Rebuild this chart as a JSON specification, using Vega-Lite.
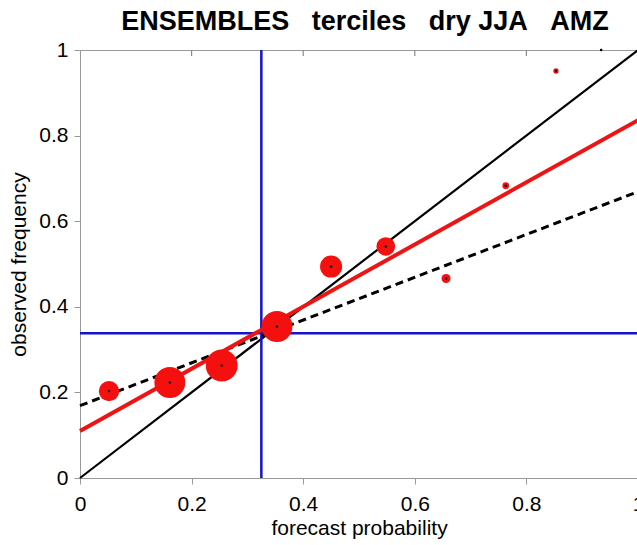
{
  "$schema": "https://vega.github.io/schema/vega-lite/v6.json",
  "autosize": "none",
  "padding": {"left": 80, "top": 50, "right": 0, "bottom": 66},
  "width": 558,
  "height": 428,
  "background": "white",
  "config": {
    "font": "Liberation Sans",
    "view": {"stroke": "#999999", "strokeWidth": 1},
    "axis": {
      "grid": false,
      "domainColor": "#999999",
      "tickColor": "#999999",
      "tickSize": 6,
      "labelFlush": false,
      "labelFont": "Liberation Sans",
      "labelFontSize": 21,
      "labelColor": "black",
      "titleFont": "Liberation Sans",
      "titleFontSize": 21,
      "titleFontWeight": "normal",
      "titleColor": "black"
    },
    "axisX": {"labelPadding": 9, "titlePadding": 3},
    "axisY": {"labelPadding": 6, "titlePadding": 9}
  },
  "title": {
    "text": "ENSEMBLES\u00a0\u00a0\u00a0terciles\u00a0\u00a0\u00a0dry\u00a0JJA\u00a0\u00a0\u00a0AMZ",
    "font": "Liberation Sans",
    "fontSize": 27,
    "fontWeight": "bold",
    "color": "black",
    "anchor": "middle",
    "offset": 3,
    "dx": 6
  },
  "datasets": {
    "lines": [
      {"line": "perfect", "x": 0, "y": 0},
      {"line": "perfect", "x": 1, "y": 1},
      {"line": "noskill", "x": 0, "y": 0.169},
      {"line": "noskill", "x": 1, "y": 0.669},
      {"line": "fit", "x": 0, "y": 0.11},
      {"line": "fit", "x": 1, "y": 0.836}
    ],
    "points": [
      {"x": 0.052, "y": 0.203, "n": 41},
      {"x": 0.161, "y": 0.223, "n": 94},
      {"x": 0.254, "y": 0.263, "n": 100},
      {"x": 0.353, "y": 0.354, "n": 94},
      {"x": 0.45, "y": 0.494, "n": 48},
      {"x": 0.548, "y": 0.541, "n": 34},
      {"x": 0.656, "y": 0.466, "n": 8},
      {"x": 0.763, "y": 0.683, "n": 4.5},
      {"x": 0.853, "y": 0.951, "n": 2.8},
      {"x": 0.934, "y": 1.0, "n": 0.5}
    ],
    "climx": [{"x": 0.325}],
    "climy": [{"y": 0.338}],
    "topticks": [
      {"x": 0.2, "y": 1, "y2": 0.986},
      {"x": 0.4, "y": 1, "y2": 0.986},
      {"x": 0.6, "y": 1, "y2": 0.986},
      {"x": 0.8, "y": 1, "y2": 0.986}
    ]
  },
  "layer": [
    {
      "data": {"name": "lines"},
      "transform": [{"filter": "datum.line === 'perfect'"}],
      "mark": {"type": "line", "color": "black", "strokeWidth": 2.2},
      "encoding": {
        "x": {"field": "x", "type": "quantitative", "scale": {"domain": [0, 1], "nice": false}, "title": "forecast probability", "axis": {"values": [0, 0.2, 0.4, 0.6, 0.8, 1], "format": "~g"}},
        "y": {"field": "y", "type": "quantitative", "scale": {"domain": [0, 1], "nice": false}, "title": "observed frequency", "axis": {"values": [0, 0.2, 0.4, 0.6, 0.8, 1], "format": "~g"}}
      }
    },
    {
      "data": {"name": "climx"},
      "mark": {"type": "rule", "color": "#1414c8", "strokeWidth": 2.5},
      "encoding": {"x": {"field": "x", "type": "quantitative", "title": "forecast probability"}}
    },
    {
      "data": {"name": "climy"},
      "mark": {"type": "rule", "color": "#1414c8", "strokeWidth": 2.5},
      "encoding": {"y": {"field": "y", "type": "quantitative", "title": "observed frequency"}}
    },
    {
      "data": {"name": "topticks"},
      "mark": {"type": "rule", "color": "#888888", "strokeWidth": 1.2},
      "encoding": {
        "x": {"field": "x", "type": "quantitative", "title": "forecast probability"},
        "y": {"field": "y", "type": "quantitative", "title": "observed frequency"},
        "y2": {"field": "y2"}
      }
    },
    {
      "data": {"name": "lines"},
      "transform": [{"filter": "datum.line === 'noskill'"}],
      "mark": {"type": "line", "color": "black", "strokeWidth": 3, "strokeDash": [8, 5]},
      "encoding": {
        "x": {"field": "x", "type": "quantitative", "title": "forecast probability"},
        "y": {"field": "y", "type": "quantitative", "title": "observed frequency"}
      }
    },
    {
      "data": {"name": "lines"},
      "transform": [{"filter": "datum.line === 'fit'"}],
      "mark": {"type": "line", "color": "#ee1414", "strokeWidth": 4},
      "encoding": {
        "x": {"field": "x", "type": "quantitative", "title": "forecast probability"},
        "y": {"field": "y", "type": "quantitative", "title": "observed frequency"}
      }
    },
    {
      "data": {"name": "points"},
      "mark": {"type": "circle", "color": "#f51010", "opacity": 1},
      "encoding": {
        "x": {"field": "x", "type": "quantitative", "title": "forecast probability"},
        "y": {"field": "y", "type": "quantitative", "title": "observed frequency"},
        "size": {"field": "n", "type": "quantitative", "scale": {"domain": [0, 100], "range": [0, 1018], "zero": true}, "legend": null}
      }
    },
    {
      "data": {"name": "points"},
      "mark": {"type": "circle", "color": "black", "opacity": 1, "size": 6},
      "encoding": {
        "x": {"field": "x", "type": "quantitative", "title": "forecast probability"},
        "y": {"field": "y", "type": "quantitative", "title": "observed frequency"}
      }
    }
  ]
}
